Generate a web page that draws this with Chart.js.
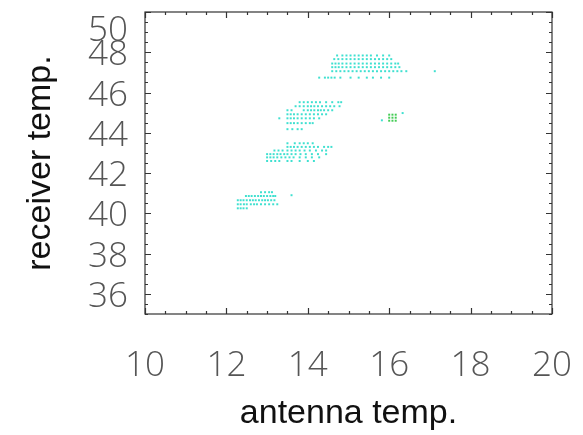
<!DOCTYPE html>
<html>
<head>
<meta charset="utf-8">
<script src="https://cdn.jsdelivr.net/npm/chart.js@4.4.0/dist/chart.umd.min.js"></script>
<style>
  html, body { margin: 0; padding: 0; background: #fff; }
</style>
</head>
<body>
<canvas id="scatterChart" width="583" height="435"></canvas>
<script>
// tick labels
const xTickLabels = [10, 12, 14, 16, 18, 20];
const yTickLabels = [36, 38, 40, 42, 44, 46, 48, 50];

// each row: [receiver temp, [antenna temps...]]
const clusterLow = [
    [41.05, [12.85, 12.95, 13.05, 13.12]],
    [40.86, [12.48, 12.55, 12.62, 12.7, 12.78, 12.85, 12.92, 13.0, 13.08, 13.15, 13.2]],
    [40.65, [12.28, 12.35, 12.42, 12.5, 12.58, 12.65, 12.72, 12.8, 12.88, 12.95, 13.02, 13.1, 13.18]],
    [40.45, [12.28, 12.35, 12.43, 12.5, 12.6, 12.68, 12.75, 12.85, 12.95, 13.05, 13.15, 13.25]],
    [40.25, [12.28, 12.35, 12.42, 12.5]],
    [40.9, [13.6]]
];

const clusterMid = [
    [43.48, [13.5, 13.68, 13.8, 13.9, 14.0, 14.12]],
    [43.3, [13.5, 13.58, 13.66, 13.75, 13.85, 13.95, 14.05, 14.15, 14.25, 14.4, 14.5, 14.58]],
    [43.12, [13.18, 13.28, 13.38, 13.5, 13.6, 13.7, 13.8, 13.92, 14.05, 14.2, 14.35, 14.45]],
    [42.94, [13.0, 13.08, 13.16, 13.25, 13.33, 13.42, 13.5, 13.6, 13.7, 13.82, 13.95, 14.1, 14.25, 14.45]],
    [42.78, [13.0, 13.08, 13.16, 13.25, 13.35, 13.45, 13.55, 13.65, 13.8, 13.95, 14.1, 14.28]],
    [42.6, [13.0, 13.1, 13.2, 13.3, 13.5, 13.6, 13.8, 14.0, 14.15]]
];

const clusterUpper = [
    [45.52, [13.8, 13.9, 14.0, 14.1, 14.2, 14.3, 14.45, 14.6, 14.75, 14.82]],
    [45.32, [13.7, 13.8, 13.9, 14.0, 14.08, 14.16, 14.25, 14.35, 14.45, 14.55, 14.65, 14.78]],
    [45.12, [13.5, 13.6, 13.9, 14.0, 14.08, 14.16, 14.25, 14.32, 14.4, 14.5, 14.6]],
    [44.92, [13.5, 13.58, 13.66, 13.75, 13.85, 13.95, 14.05, 14.15, 14.25, 14.35, 14.45]],
    [44.72, [13.3, 13.5, 13.58, 13.66, 13.75, 13.85, 13.95, 14.05, 14.15, 14.28]],
    [44.48, [13.5, 13.58, 13.66, 13.75, 13.85, 13.95, 14.05, 14.12]],
    [44.18, [13.5, 13.62, 13.75, 13.85]],
    [44.62, [15.82]],
    [44.98, [16.33]]
];

const clusterTop = [
    [47.84, [14.72, 14.85, 14.95, 15.05, 15.15, 15.25, 15.35, 15.45, 15.55, 15.7, 15.85, 16.0]],
    [47.66, [14.65, 14.75, 14.85, 14.95, 15.05, 15.15, 15.25, 15.35, 15.45, 15.55, 15.65, 15.75, 15.85, 15.95, 16.05]],
    [47.44, [14.6, 14.68, 14.76, 14.85, 14.95, 15.05, 15.15, 15.25, 15.35, 15.45, 15.55, 15.65, 15.75, 15.85, 15.95, 16.05, 16.15, 16.22]],
    [47.26, [14.6, 14.68, 14.76, 14.85, 14.95, 15.05, 15.15, 15.25, 15.35, 15.45, 15.55, 15.65, 15.75, 15.85, 15.95, 16.05, 16.15, 16.25]],
    [47.06, [14.6, 14.7, 14.8, 14.9, 15.0, 15.1, 15.2, 15.3, 15.4, 15.5, 15.6, 15.7, 15.8, 15.9, 16.0, 16.1, 16.2, 16.3, 16.42]],
    [46.74, [14.28, 14.42, 14.5, 14.58, 14.66, 14.8, 15.05, 15.25, 15.45, 15.6, 15.8, 16.0]],
    [47.06, [17.12]]
];

const clusterGreen = [
    [44.9, [16.0, 16.08, 16.16]],
    [44.75, [16.0, 16.08, 16.16]],
    [44.6, [16.0, 16.08, 16.16]]
];

function toPoints(rows) {
    const pts = [];
    rows.forEach(function (row) {
        row[1].forEach(function (x) { pts.push({ x: x, y: row[0] }); });
    });
    return pts;
}

const cyan = '#3fe0d0';
const green = '#44cc55';
const tickFamily = '"Open Sans", "DejaVu Sans", sans-serif';
const labelFont = '300 35px ' + tickFamily;

// box + inward ticks on all four sides, and the y tick labels
const framePlugin = {
    id: 'frame',
    afterDraw(chart) {
        const ctx = chart.ctx;
        const a = chart.chartArea;
        const xs = chart.scales.x;
        const ys = chart.scales.y;
        ctx.save();
        ctx.strokeStyle = '#333';
        ctx.lineWidth = 1.2;
        ctx.strokeRect(a.left, a.top, a.right - a.left, a.bottom - a.top);

        ctx.beginPath();
        for (let v = 10; v <= 20.001; v += 0.5) {
            const px = Math.round(xs.getPixelForValue(v)) + 0.5;
            const len = (Math.abs(v % 2) < 0.01) ? 6 : 3;
            ctx.moveTo(px, a.bottom); ctx.lineTo(px, a.bottom - len);
            ctx.moveTo(px, a.top); ctx.lineTo(px, a.top + len);
        }
        for (let v = 35; v <= 50.001; v += 0.5) {
            const py = Math.round(ys.getPixelForValue(v)) + 0.5;
            const len = (Math.abs(v % 2) < 0.01) ? 6 : 3;
            ctx.moveTo(a.left, py); ctx.lineTo(a.left + len, py);
            ctx.moveTo(a.right, py); ctx.lineTo(a.right - len, py);
        }
        ctx.stroke();

        ctx.fillStyle = '#555';
        ctx.font = labelFont;
        ctx.textAlign = 'right';
        ctx.textBaseline = 'middle';
        yTickLabels.forEach(function (v) {
            let py = ys.getPixelForValue(v) + 3;
            if (py < 31) py = 31;
            ctx.fillText(String(v), a.left - 17, py);
        });
        ctx.restore();
    }
};

new Chart(document.getElementById('scatterChart'), {
    type: 'scatter',
    data: {
        datasets: [
            { data: toPoints(clusterLow), backgroundColor: cyan },
            { data: toPoints(clusterMid), backgroundColor: cyan },
            { data: toPoints(clusterUpper), backgroundColor: cyan },
            { data: toPoints(clusterTop), backgroundColor: cyan },
            { data: toPoints(clusterGreen), backgroundColor: green }
        ]
    },
    options: {
        responsive: false,
        animation: false,
        layout: { padding: { top: 12, right: 31, left: 0, bottom: 0 } },
        elements: {
            point: { pointStyle: 'rect', radius: 1.4, borderWidth: 0, hoverRadius: 1.4 }
        },
        plugins: {
            legend: { display: false },
            tooltip: { enabled: false }
        },
        scales: {
            x: {
                type: 'linear',
                min: 10,
                max: 20,
                grid: { display: false },
                border: { display: false },
                ticks: {
                    stepSize: 2,
                    autoSkip: false,
                    maxRotation: 0,
                    padding: 23,
                    color: '#555',
                    font: { family: tickFamily, size: 35, weight: 300 },
                    callback: function (v) { return xTickLabels.includes(v) ? String(v) : ''; }
                },
                title: {
                    display: true,
                    text: 'antenna temp.',
                    color: '#111',
                    font: { family: '"Liberation Sans", Arial, sans-serif', size: 34 },
                    padding: { top: 0, bottom: 1 }
                },
                afterFit: function (s) {
                    s.height = 121;
                    s.paddingLeft = 0;
                    s.paddingRight = 0;
                }
            },
            y: {
                type: 'linear',
                min: 35,
                max: 50,
                grid: { display: false },
                border: { display: false },
                ticks: { display: false },
                title: {
                    display: true,
                    text: 'receiver temp.',
                    color: '#111',
                    font: { family: '"Liberation Sans", Arial, sans-serif', size: 34 },
                    padding: { top: 20, bottom: 0 }
                },
                afterFit: function (s) {
                    s.width = 145;
                    s.paddingTop = 0;
                    s.paddingBottom = 0;
                }
            }
        }
    },
    plugins: [framePlugin]
});
</script>
</body>
</html>
